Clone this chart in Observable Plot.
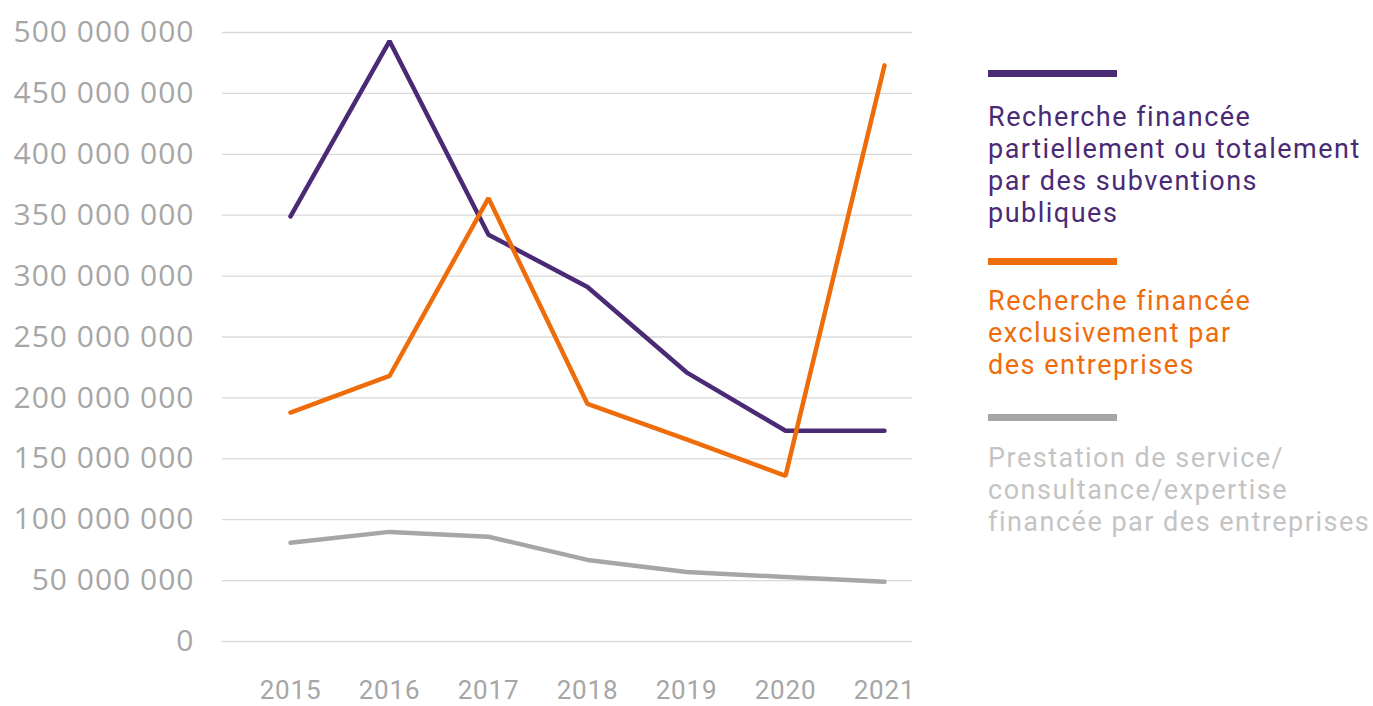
<!DOCTYPE html>
<html>
<head>
<meta charset="utf-8">
<script src="https://cdn.jsdelivr.net/npm/d3@7"></script>
<script src="https://cdn.jsdelivr.net/npm/@observablehq/plot@0.6"></script>
<style>
  html, body { margin: 0; padding: 0; background: #fff; }
  #wrap { position: relative; width: 1373px; height: 706px; overflow: hidden; }
  #legend { position: absolute; left: 988px; top: 0; font-family: Roboto, sans-serif; font-size: 27px; letter-spacing: 1.5px; line-height: 32px; }
  .sw { position: absolute; left: 0; width: 129px; height: 7px; }
  .lt { position: absolute; left: 0; white-space: nowrap; }
  [aria-label="y-axis tick label"] { letter-spacing: 1px; }
  [aria-label="x-axis tick label"] { font-family: Roboto, sans-serif; letter-spacing: 0.8px; }
</style>
</head>
<body>
<div id="wrap">
  <div id="chart"></div>
  <div id="legend"></div>
</div>
<script>
const years = [2015, 2016, 2017, 2018, 2019, 2020, 2021];
const subventions = [349e6, 493e6, 334e6, 291e6, 221e6, 173e6, 173e6];
const entreprises = [188e6, 218e6, 364e6, 195e6, 166e6, 136e6, 473e6];
const prestation = [81e6, 90e6, 86e6, 67e6, 57e6, 53e6, 49e6];
const seriesNames = [
  "Recherche financée partiellement ou totalement par des subventions publiques",
  "Recherche financée exclusivement par des entreprises",
  "Prestation de service/consultance/expertise financée par des entreprises"
];
const seriesColors = ["#4a2a75", "#ef6c0b", "#a6a6a6"];
const legendLines = [
  ["Recherche financée", "partiellement ou totalement", "par des subventions", "publiques"],
  ["Recherche financée", "exclusivement par", "des entreprises"],
  ["Prestation de service/", "consultance/expertise", "financée par des entreprises"]
];
const legendTextColors = ["#4a2a75", "#ef6c0b", "#c4c4c4"];
const yTicks = d3.range(0, 500e6 + 1, 50e6);

const fr = d3.formatLocale({decimal: ",", thousands: " ", grouping: [3], currency: ["", ""]});
const fmt = fr.format(",");

const rows = [];
[subventions, entreprises, prestation].forEach((vals, si) => {
  years.forEach((y, i) => rows.push({year: y, value: vals[i], series: seriesNames[si]}));
});
const drawOrder = [2, 0, 1];

const chart = Plot.plot({
  width: 960,
  height: 706,
  marginLeft: 222,
  marginRight: 48,
  marginTop: 32,
  marginBottom: 65,
  insetLeft: 68,
  insetRight: 28,
  style: {fontFamily: "Open Sans, sans-serif", background: "#fff"},
  x: {type: "linear", domain: [2015, 2021], ticks: years, tickFormat: d => String(d)},
  y: {domain: [0, 500e6], ticks: yTicks, tickFormat: fmt},
  marks: [
    Plot.ruleY(yTicks, {stroke: "#d9d9d9", strokeWidth: 1.3}),
    Plot.axisY({ticks: yTicks, tickFormat: fmt, tickSize: 0, tickPadding: 28, fontSize: 30, fill: "#a6a6a6", label: null}),
    Plot.axisX({ticks: years, tickFormat: d => String(d), tickSize: 0, tickPadding: 39, fontSize: 26, fill: "#a6a6a6", label: null}),
    ...drawOrder.map(si => Plot.line(rows.filter(r => r.series === seriesNames[si]), {
      x: "year", y: "value", stroke: seriesColors[si], strokeWidth: 4.5,
      strokeLinejoin: "miter", strokeLinecap: "round"
    }))
  ]
});
document.getElementById("chart").appendChild(chart);

const legend = document.getElementById("legend");
const swatchY = [70, 258, 414];
const textTop = [101, 285, 442];
legendLines.forEach((lines, si) => {
  const sw = document.createElement("div");
  sw.className = "sw";
  sw.style.top = swatchY[si] + "px";
  sw.style.background = seriesColors[si];
  legend.appendChild(sw);
  lines.forEach((t, li) => {
    const d = document.createElement("div");
    d.className = "lt";
    d.style.top = (textTop[si] + li * 32) + "px";
    d.style.color = legendTextColors[si];
    d.textContent = t;
    legend.appendChild(d);
  });
});
</script>
</body>
</html>
